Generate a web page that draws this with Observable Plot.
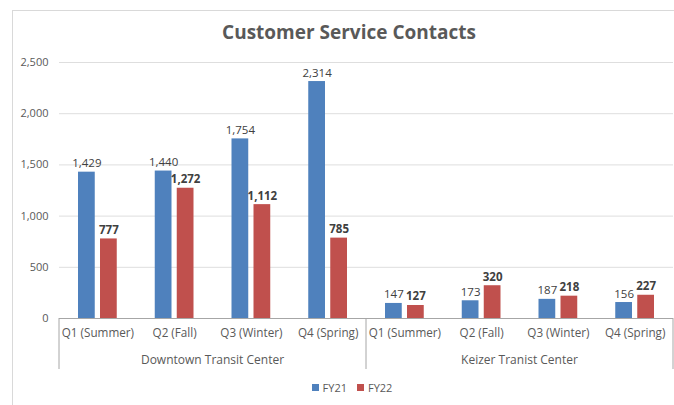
<!DOCTYPE html>
<html>
<head>
<meta charset="utf-8">
<script src="https://cdn.jsdelivr.net/npm/d3@7"></script>
<script src="https://cdn.jsdelivr.net/npm/@observablehq/plot@0.6"></script>
<style>
  html, body { margin: 0; padding: 0; background: #fff; width: 674px; height: 405px; overflow: hidden; }
  body { position: relative; font-family: 'Open Sans', sans-serif; }
  #frame { position: absolute; left: 12px; top: 10px; width: 700px; height: 420px; border: 1px solid #d9d9d9; box-sizing: border-box; }
  #title { position: absolute; left: 0; width: 698px; top: 19px; text-align: center; font-size: 19px; font-weight: bold; color: #595959; line-height: 26px; }
  #chart { position: absolute; left: 0; top: 0; }
  #legend { position: absolute; top: 379px; left: 0; width: 704px; text-align: center; font-size: 11px; color: #595959; line-height: 16px; }
  #legend span.item { display: inline-flex; align-items: center; margin: 0 5px; }
  #legend span.sw { display: inline-block; width: 7px; height: 7px; margin-right: 4px; }
</style>
</head>
<body>
<div id="frame"></div>
<div id="title">Customer Service Contacts</div>
<div id="chart"></div>
<div id="legend"></div>
<script>
const groups = ["Downtown Transit Center", "Keizer Tranist Center"];
const quarters = ["Q1 (Summer)", "Q2 (Fall)", "Q3 (Winter)", "Q4 (Spring)"];
const fy21 = [1429, 1440, 1754, 2314, 147, 173, 187, 156];
const fy22 = [777, 1272, 1112, 785, 127, 320, 218, 227];
const yTicks = [0, 500, 1000, 1500, 2000, 2500];
const series = ["FY21", "FY22"];
const colors = ["#4F81BD", "#C0504D"];

const rows = fy21.map((v, i) => ({
  key: i,
  group: groups[Math.floor(i / 4)],
  quarter: quarters[i % 4],
  fy21: v,
  fy22: fy22[i]
}));
const fmt = d3.format(",");

const chart = Plot.plot({
  width: 674,
  height: 380,
  marginTop: 62,
  marginBottom: 62,
  marginLeft: 59,
  marginRight: 1,
  x: {type: "band", domain: d3.range(8), padding: 0, round: false, axis: null},
  y: {domain: [0, 2500], axis: null},
  style: {fontFamily: "'Open Sans', sans-serif", background: "transparent", overflow: "visible"},
  marks: [
    Plot.ruleY(yTicks.slice(1), {stroke: "#dedede"}),
    Plot.text(yTicks, {y: d => d, text: d => fmt(d), frameAnchor: "left", textAnchor: "end", dx: -11, fill: "#595959", fontSize: 11}),
    Plot.barY(rows, {x: "key", y: "fy21", fill: colors[0], insetLeft: 19, insetRight: 41}),
    Plot.barY(rows, {x: "key", y: "fy22", fill: colors[1], insetLeft: 41, insetRight: 19}),
    Plot.ruleY([0], {stroke: "#a6a6a6"}),
    Plot.text(rows, {x: "key", y: "fy21", text: d => fmt(d.fy21), dx: -11, dy: -5, lineAnchor: "bottom", fill: "#404040", fontSize: 11.5}),
    Plot.text(rows, {x: "key", y: "fy22", text: d => fmt(d.fy22), dx: 11, dy: -5, lineAnchor: "bottom", fill: "#404040", fontSize: 11.5, fontWeight: "bold"}),
    Plot.text(rows, {x: "key", text: "quarter", frameAnchor: "bottom", dy: 18, fill: "#595959", fontSize: 11.7})
  ]
});
document.getElementById("chart").appendChild(chart);

// Group separators and group labels, placed with Plot's own x scale
const xs = chart.scale("x");
const bw = xs.bandwidth;
const y0 = 318;
const svg = d3.select(chart);
const bounds = [0, 4].map(k => xs.apply(k)).concat([xs.apply(7) + bw]);
svg.append("g").selectAll("line").data(bounds).join("line")
  .attr("x1", d => d).attr("x2", d => d)
  .attr("y1", y0).attr("y2", y0 + 51)
  .attr("stroke", "#a6a6a6");
svg.append("g").selectAll("text").data(groups).join("text")
  .attr("x", (d, i) => xs.apply(i * 4 + 2))
  .attr("y", y0 + 46)
  .attr("text-anchor", "middle")
  .attr("fill", "#595959")
  .attr("font-size", 12)
  .attr("font-family", "'Open Sans', sans-serif")
  .text(d => d);

// Legend
const legend = document.getElementById("legend");
series.forEach((s, i) => {
  const item = document.createElement("span");
  item.className = "item";
  item.innerHTML = `<span class="sw" style="background:${colors[i]}"></span>${s}`;
  legend.appendChild(item);
});
</script>
</body>
</html>
